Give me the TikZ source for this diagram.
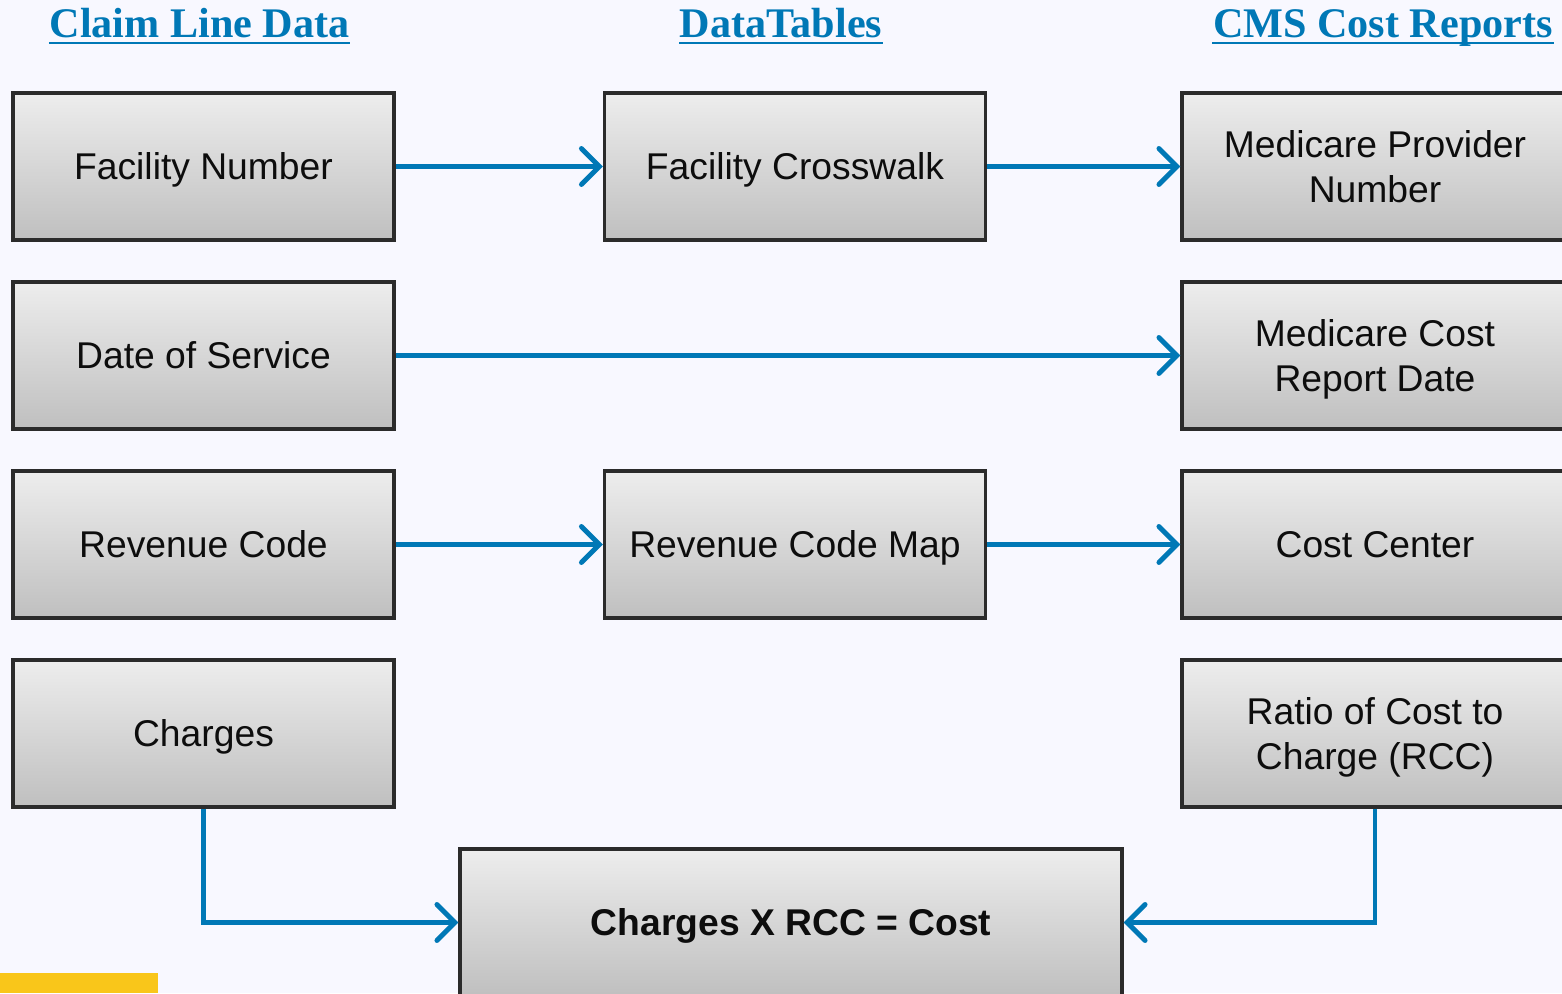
\documentclass[tikz,border=0pt]{standalone}
\usepackage{fontspec}
\setmainfont{Liberation Sans}
\newfontfamily\hdrfont{Liberation Serif}
\usetikzlibrary{arrows.meta}
\definecolor{linkblue}{RGB}{0,120,182}
\definecolor{bgpaper}{RGB}{248,248,255}
\definecolor{boxedge}{RGB}{43,43,43}
\definecolor{tabyellow}{RGB}{249,198,26}
\tikzset{
  fieldbox/.style={draw=boxedge, line width=0.9pt, top color=black!7, bottom color=black!25,
    minimum width=3.81cm, minimum height=1.47cm, align=center, text depth=0pt,
    font=\fontsize{10.6}{12.9}\selectfont, text=black!95},
  oneline/.style={fieldbox, text height=7.6pt},
  colhead/.style={anchor=base, inner sep=0pt, text=linkblue,
    font=\hdrfont\fontsize{12}{14}\selectfont\bfseries},
  link/.style={draw=linkblue, line width=1.4pt,
    -{Straight Barb[length=1.8mm,width=3.6mm,line cap=round]}},
}
\begin{document}
\begin{tikzpicture}
        
            \useasboundingbox[fill=bgpaper](0,0) rectangle (15.62,9.93);
            \fill[tabyellow](0,0) rectangle (1.58,0.20);

            %titoli colonne
            \node[colhead] (hClaim) at (1.995,9.55) {Claim Line Data};
            \node[colhead] (hTables) at (7.81,9.55) {DataTables};
            \node[colhead] (hCms) at (13.83,9.55) {CMS Cost Reports};
            \foreach \h in {hClaim,hTables,hCms}
              \draw[linkblue, line width=0.7pt]([yshift=-1.5pt]\h.base west)--([yshift=-1.5pt]\h.base east);

            %colonna sinistra
            \node[oneline] (facNum) at (2.035,8.265) {Facility Number};
            \node[oneline] (dateServ) at (2.035,6.375) {Date of Service};
            \node[oneline] (revCode) at (2.035,4.485) {Revenue Code};
            \node[oneline] (charges) at (2.035,2.595) {Charges};

            %colonna centrale
            \node[oneline] (facCross) at (7.95,8.265) {Facility Crosswalk};
            \node[oneline] (revMap) at (7.95,4.485) {Revenue Code Map};

            %colonna destra
            \node[fieldbox, minimum width=3.86cm] (provNum) at (13.75,8.265) {Medicare Provider\\Number};
            \node[fieldbox, minimum width=3.86cm] (repDate) at (13.75,6.375) {Medicare Cost\\Report Date};
            \node[oneline, minimum width=3.86cm] (costCtr) at (13.75,4.485) {Cost Center};
            \node[fieldbox, minimum width=3.86cm] (rcc) at (13.75,2.595) {Ratio of Cost to\\Charge (RCC)};

            %risultato
            \node[oneline, minimum width=6.62cm, font=\fontsize{10.6}{12.9}\selectfont\bfseries] (cost) at (7.91,0.705) {Charges X RCC = Cost};

            %freccie
            \draw[link] (facNum)--(facCross);
            \draw[link] (facCross)--(provNum);
            \draw[link] (dateServ)--(repDate);
            \draw[link] (revCode)--(revMap);
            \draw[link] (revMap)--(costCtr);
            \draw[link] (charges.south) |- (cost.west);
            \draw[link] (rcc.south) |- (cost.east);
        \end{tikzpicture}
\end{document}
